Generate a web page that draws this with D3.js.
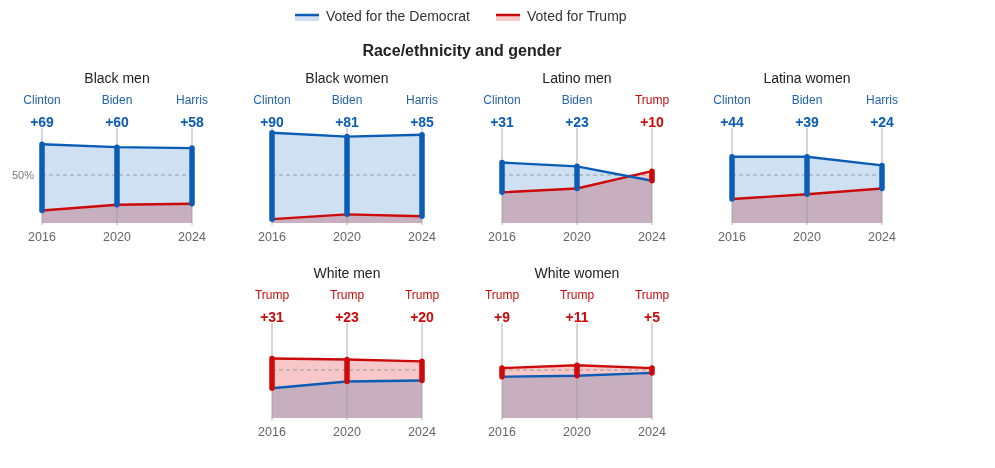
<!DOCTYPE html>
<html>
<head>
<meta charset="utf-8">
<script src="https://cdn.jsdelivr.net/npm/d3@7"></script>
<style>
  html, body { margin: 0; padding: 0; background: #fff; }
  svg { display: block; font-family: "Liberation Sans", Arial, sans-serif; isolation: isolate; }
</style>
</head>
<body>
<svg id="chart" width="995" height="468"></svg>
<script>
// ---- Data ----
const groups = ["Black men", "Black women", "Latino men", "Latina women", "White men", "White women"];
const years = [2016, 2020, 2024];
const demCandidates = ["Clinton", "Biden", "Harris"];
const demShare   = [[82, 79, 78], [94, 90, 92], [63, 59, 44], [69, 69, 60], [31, 38, 39], [43, 44, 47]];
const trumpShare = [[13, 19, 20], [4, 9, 7],   [32, 36, 54], [25, 30, 36], [62, 61, 59], [52, 55, 52]];
const legendLabels = ["Voted for the Democrat", "Voted for Trump"];
const chartTitle = "Race/ethnicity and gender";

// ---- Styles ----
const BLUE = "#0b5cb5", RED = "#cc0a0a";
const LBLUE = "#cfe0f2", LRED = "#f7c7c9";
const svg = d3.select("#chart");

// legend
const legendX = [295, 496];
legendLabels.forEach((lab, i) => {
  const g = svg.append("g").attr("transform", `translate(${legendX[i]},0)`);
  g.append("rect").attr("x", 0).attr("y", 15).attr("width", 24).attr("height", 6)
    .attr("fill", i === 0 ? LBLUE : LRED);
  g.append("line").attr("x1", 0).attr("x2", 24).attr("y1", 15).attr("y2", 15)
    .attr("stroke", i === 0 ? BLUE : RED).attr("stroke-width", 2.5);
  g.append("text").attr("x", 31).attr("y", 21).attr("font-size", 14).attr("fill", "#333").text(lab);
});

svg.append("text").attr("x", 462).attr("y", 56).attr("text-anchor", "middle")
  .attr("font-size", 16).attr("font-weight", "bold").attr("fill", "#222").text(chartTitle);

// panel layout
const panelPos = [[0, 0], [1, 0], [2, 0], [3, 0], [1, 1], [2, 1]];
const colX0 = 42, colStep = 230, panelW = 150;
const rowBottom = [223, 418];
const plotH = 96;

const x = d3.scalePoint().domain(years).range([0, panelW]);

groups.forEach((name, gi) => {
  const [col, row] = panelPos[gi];
  const x0 = colX0 + col * colStep;
  const yb = rowBottom[row];
  const y = d3.scaleLinear().domain([0, 100]).range([yb, yb - plotH]);
  const g = svg.append("g").attr("transform", `translate(${x0},0)`);
  const dem = demShare[gi], tr = trumpShare[gi];
  const pts = years.map((yr, i) => ({ yr, d: dem[i], t: tr[i] }));

  // title
  g.append("text").attr("x", panelW / 2).attr("y", yb - 140).attr("text-anchor", "middle")
    .attr("font-size", 14).attr("fill", "#222").text(name);

  // fills (multiply blend)
  const fills = g.append("g").style("isolation", "isolate");
  fills.append("path").datum(pts)
    .attr("d", d3.area().x(p => x(p.yr)).y0(yb).y1(p => y(p.d)))
    .attr("fill", LBLUE).style("mix-blend-mode", "multiply");
  fills.append("path").datum(pts)
    .attr("d", d3.area().x(p => x(p.yr)).y0(yb).y1(p => y(p.t)))
    .attr("fill", LRED).style("mix-blend-mode", "multiply");

  // vertical grid lines
  years.forEach(yr => {
    g.append("line").attr("x1", x(yr)).attr("x2", x(yr))
      .attr("y1", y(100) + 1).attr("y2", yb + 2)
      .attr("stroke", "#999").attr("stroke-width", 0.8);
  });

  // 50% dashed
  g.append("line").attr("x1", 0).attr("x2", panelW).attr("y1", y(50)).attr("y2", y(50))
    .attr("stroke", "#8a8a8a").attr("stroke-width", 1).attr("stroke-dasharray", "4,3").attr("opacity", 0.8);
  if (gi === 0) {
    g.append("text").attr("x", -8).attr("y", y(50) + 4).attr("text-anchor", "end")
      .attr("font-size", 11).attr("fill", "#777").text("50%");
  }

  // lines
  g.append("path").datum(pts).attr("d", d3.line().x(p => x(p.yr)).y(p => y(p.t)))
    .attr("fill", "none").attr("stroke", RED).attr("stroke-width", 2.4);
  g.append("path").datum(pts).attr("d", d3.line().x(p => x(p.yr)).y(p => y(p.d)))
    .attr("fill", "none").attr("stroke", BLUE).attr("stroke-width", 2.4);

  // bars + labels
  pts.forEach((p, i) => {
    const demWin = p.d > p.t;
    const col = demWin ? BLUE : RED;
    g.append("line").attr("x1", x(p.yr)).attr("x2", x(p.yr))
      .attr("y1", y(p.d)).attr("y2", y(p.t))
      .attr("stroke", col).attr("stroke-width", 5.5).attr("stroke-linecap", "round");
    g.append("text").attr("x", x(p.yr)).attr("y", yb - 119).attr("text-anchor", "middle")
      .attr("font-size", 12).attr("fill", demWin ? "#2363ab" : RED)
      .text(demWin ? demCandidates[i] : "Trump");
    g.append("text").attr("x", x(p.yr)).attr("y", yb - 96).attr("text-anchor", "middle")
      .attr("font-size", 14).attr("font-weight", "bold").attr("fill", demWin ? BLUE : RED)
      .text("+" + Math.abs(p.d - p.t));
    g.append("text").attr("x", x(p.yr)).attr("y", yb + 18).attr("text-anchor", "middle")
      .attr("font-size", 12.5).attr("fill", "#666").text(p.yr);
  });
});
</script>
</body>
</html>
